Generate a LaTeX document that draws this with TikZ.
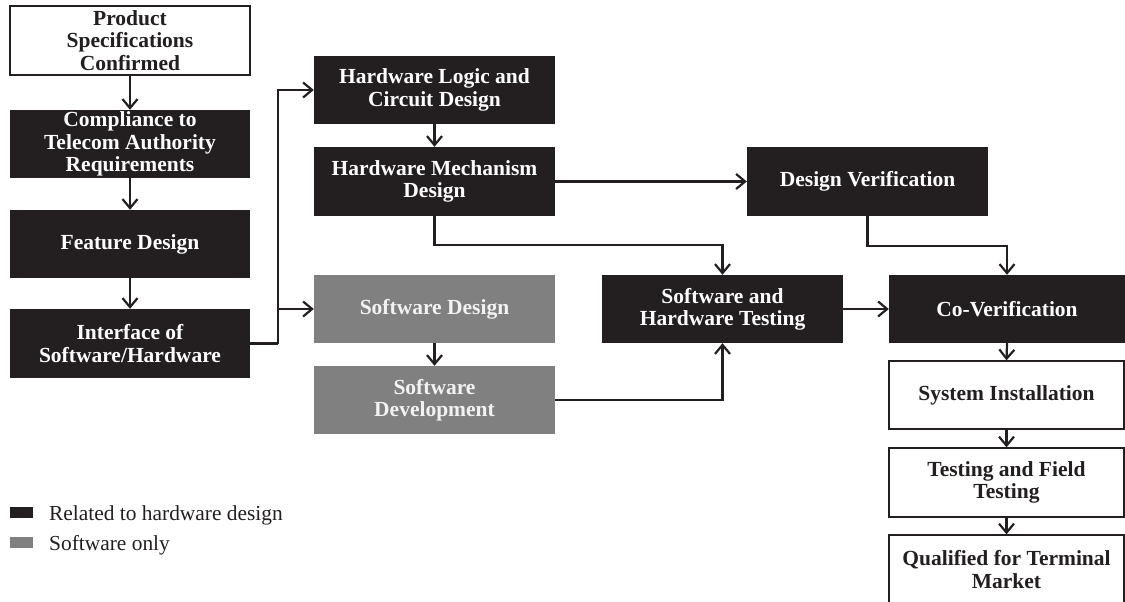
\documentclass[tikz,border=0pt]{standalone}
\usepackage{fontspec}
\setmainfont{Liberation Serif}
\usetikzlibrary{arrows.meta,calc}
\definecolor{hw}{HTML}{231F20}
\definecolor{sw}{HTML}{808080}
\tikzset{
  box/.style={rectangle, inner sep=0pt, minimum width=240pt, minimum height=68pt, align=center,
    font=\fontsize{21.5}{22.3}\selectfont\bfseries},
  hwbox/.style={box, fill=hw, text=white},
  swbox/.style={box, fill=sw, text=white!95!black},
  wbox/.style={box, fill=white, draw=hw, line width=1.3pt, text=hw},
  conn/.style={draw=hw, line width=2.2pt, -{Straight Barb[length=9pt,width=15pt,line width=2.2pt]}},
  line/.style={draw=hw, line width=2.2pt},
  legtext/.style={anchor=base west, inner sep=0pt, font=\fontsize{21.4}{22}\selectfont, text=hw},
}
\begin{document}
\begin{tikzpicture}[x=1pt,y=-1pt]
\useasboundingbox (0,0) rectangle (1125,602);
% left column
\node[wbox, minimum height=69pt] (A) at (130,40.5) {Product\\Specifications\\Confirmed};
\node[hwbox] (B) at (130,144) {Compliance to\\Telecom Authority\\Requirements};
\node[hwbox] (C) at (130,244) {Feature Design};
\node[hwbox, minimum height=69pt] (D) at (130,343.5) {Interface of\\Software/Hardware};
% second column
\node[hwbox, minimum width=241pt] (HL) at (434.5,90) {Hardware Logic and\\Circuit Design};
\node[hwbox, minimum width=241pt, minimum height=69pt] (HM) at (434.5,181.5) {Hardware Mechanism\\Design};
\node[swbox, minimum width=241pt] (SD) at (434.5,309) {Software Design};
\node[swbox, minimum width=241pt] (SDev) at (434.5,400) {Software\\Development};
% third column
\node[hwbox, minimum width=241pt, minimum height=69pt] (DV) at (867.5,181.5) {Design Verification};
\node[hwbox, minimum width=241pt] (SHT) at (722.5,309) {Software and\\Hardware Testing};
% right column
\node[hwbox, minimum width=236pt] (CoV) at (1007,309) {Co-Verification};
\node[wbox, minimum width=235pt] (SI) at (1006.5,395) {System Installation};
\node[wbox, minimum width=235pt, minimum height=69pt] (TF) at (1006.5,482.5) {Testing and Field\\Testing};
\node[wbox, minimum width=235pt, minimum height=69pt] (QT) at (1006.5,569.5) {Qualified for Terminal\\Market};
% connectors
\draw[conn] (A) -- (B);
\draw[conn] (B) -- (C);
\draw[conn] (C) -- (D);
\coordinate (split) at ($(D.east)+(28,0)$);
\draw[line] (D.east) -- (split);
\draw[conn] (split) |- (HL.west);
\draw[conn] (split) |- (SD.west);
\draw[conn] (HL) -- (HM);
\draw[conn] (HM.east) -- (DV.west);
\draw[conn] (HM.south) -- ++(0,29) -| (SHT.north);
\draw[conn] (SD) -- (SDev);
\draw[conn] (SDev.east) -| (SHT.south);
\draw[conn] (SHT.east) -- (CoV.west);
\draw[conn] (DV.south) -- ++(0,30) -| (CoV.north);
\draw[conn] (CoV.south) -- (SI.north);
\draw[conn] (SI.south) -- (TF.north);
\draw[conn] (TF.south) -- (QT.north);
% legend
\node[rectangle, fill=hw, inner sep=0pt, minimum width=23pt, minimum height=11pt] (LH) at (21.5,512.5) {};
\node[legtext] (LHt) at (49,520) {Related to hardware design};
\node[rectangle, fill=sw, inner sep=0pt, minimum width=23pt, minimum height=11pt] (LS) at (21.5,542.5) {};
\node[legtext] (LSt) at (49,550) {Software only};
\end{tikzpicture}
\end{document}
